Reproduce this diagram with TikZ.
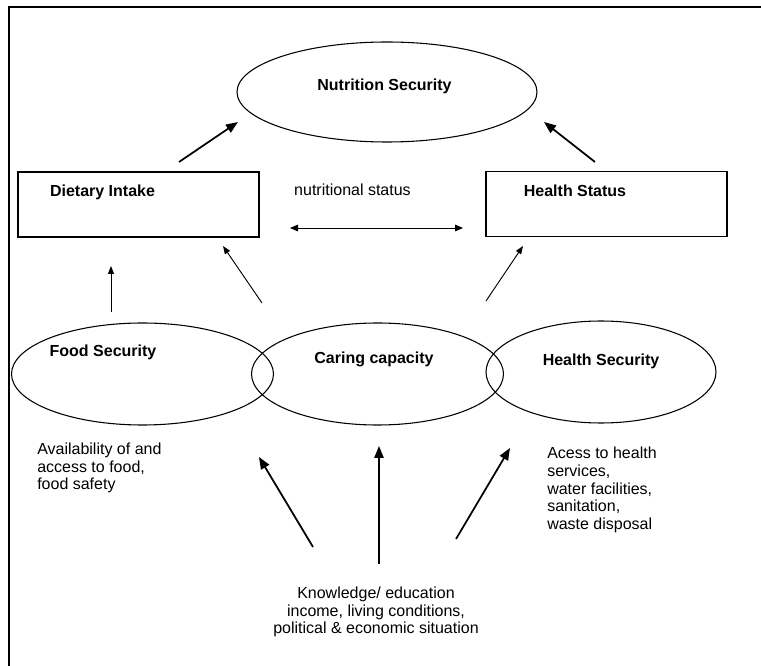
\documentclass[tikz,border=0pt]{standalone}
\usepackage{fontspec}
\setmainfont{Liberation Sans}
\usetikzlibrary{shapes.geometric,arrows.meta}

\newcommand{\diagfont}{\fontsize{12}{13.2}\selectfont}

\tikzset{
    box/.style = {draw, line width=1.1pt, minimum width=180.75pt, minimum height=48.75pt},
    oval/.style = {draw, ellipse, line width=0.8pt, minimum height=76.5pt},
    title/.style = {font=\diagfont\bfseries, inner sep=0pt},
    note/.style = {align=left, inner sep=0pt},
    thinarrow/.style = {-{Triangle[length=6pt, width=4.5pt]}, line width=0.7pt},
    boldarrow/.style = {-{Triangle[length=9pt, width=7pt]}, line width=1.3pt}
}

\begin{document}
\begin{tikzpicture}[x=0.75pt, y=-0.75pt, font=\diagfont]
    \useasboundingbox (0,0) rectangle (761,666);
    \draw[line width=1.5pt] (9,666) -- (9,7) -- (761,7);

    % goal
    \node[oval, minimum width=225pt, minimum height=75pt] (nutr) at (387,92) {};
    \node[title] (nutrtext) at (384.5,86) {Nutrition Security};

    % status boxes
    \node[box] (diet) at (138.5,204.5) {};
    \node[title] (diettext) at (102.5,192) {Dietary Intake};
    \node[box] (hstat) at (606.5,204) {};
    \node[title] (hstattext) at (575,191) {Health Status};
    \node[inner sep=0pt] (nstat) at (352.5,190) {nutritional status};

    % the three securities
    \node[oval, minimum width=196.5pt] (food) at (142.5,374) {};
    \node[title] (foodtext) at (103,352) {Food Security};
    \node[oval, minimum width=189pt] (care) at (377.5,374) {};
    \node[title] (caretext) at (374,359) {Caring capacity};
    \node[oval, minimum width=172.5pt] (hsec) at (601,372) {};
    \node[title] (hsectext) at (601,361) {Health Security};

    \node[note, anchor=west] (foodnote) at (37,468) {Availability of and\\access to food,\\food safety};
    \node[note, anchor=west] (hsecnote) at (547,490) {Acess to health\\services,\\water facilities,\\sanitation,\\waste disposal};
    \node[align=center, inner sep=0pt] (basis) at (376,612) {Knowledge/ education\\income, living conditions,\\political \& economic situation};

    % arrow ends
    \coordinate (d1) at (179,162);  \coordinate (n1) at (238,122);
    \coordinate (h1) at (595,162);  \coordinate (n2) at (544,122);
    \coordinate (s1) at (290,228);  \coordinate (s2) at (463,228);
    \coordinate (f1) at (111,312);  \coordinate (d2) at (111,266);
    \coordinate (c1) at (262,303);  \coordinate (d3) at (223,246);
    \coordinate (c2) at (486,301);  \coordinate (h2) at (523,246);
    \coordinate (b1) at (313,547);  \coordinate (c3) at (259,457);
    \coordinate (b2) at (379,564);  \coordinate (c4) at (379,446);
    \coordinate (b3) at (456,539);  \coordinate (c5) at (510,448);

    \draw[boldarrow] (d1) -- (n1);
    \draw[boldarrow] (h1) -- (n2);
    \draw[{Triangle[length=6pt, width=5pt]}-{Triangle[length=6pt, width=5pt]}, line width=0.7pt] (s1) -- (s2);
    \draw[thinarrow] (f1) -- (d2);
    \draw[thinarrow] (c1) -- (d3);
    \draw[thinarrow] (c2) -- (h2);
    \draw[boldarrow] (b1) -- (c3);
    \draw[boldarrow] (b2) -- (c4);
    \draw[boldarrow] (b3) -- (c5);
\end{tikzpicture}
\end{document}
